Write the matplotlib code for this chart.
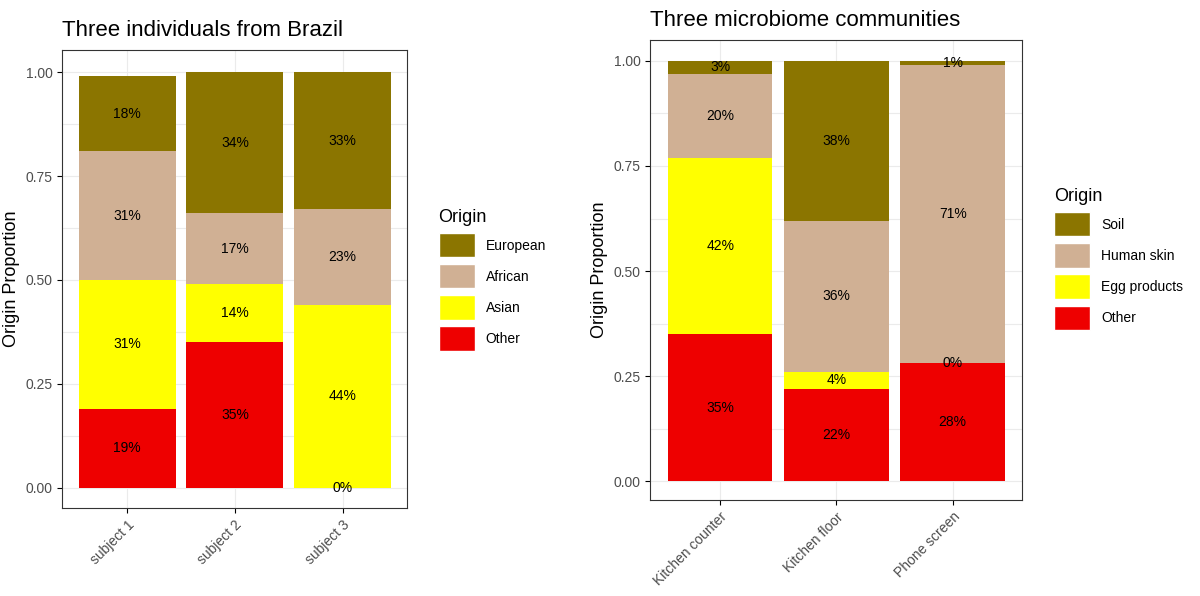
import matplotlib
matplotlib.use("Agg")
import matplotlib.pyplot as plt
from matplotlib.patches import Patch
import numpy as np

plt.rcParams['font.family'] = ['Liberation Sans', 'DejaVu Sans']

# Left panel data (bottom to top: Other, Asian, African, European)
subjects = ["subject 1", "subject 2", "subject 3"]
brazil_other = [0.19, 0.35, 0.00]
brazil_asian = [0.31, 0.14, 0.44]
brazil_african = [0.31, 0.17, 0.23]
brazil_european = [0.18, 0.34, 0.33]

# Right panel data (bottom to top: Other, Egg products, Human skin, Soil)
sites = ["Kitchen counter", "Kitchen floor", "Phone screen"]
micro_other = [0.35, 0.22, 0.28]
micro_egg = [0.42, 0.04, 0.00]
micro_skin = [0.20, 0.36, 0.71]
micro_soil = [0.03, 0.38, 0.01]

COLORS = ["#EE0000", "#FFFF00", "#D0B094", "#8B7500"]

fig = plt.figure(figsize=(12, 5.96), dpi=100)


def panel(ax, cats, series, names, title, legend_y):
    x = np.arange(1, len(cats) + 1)
    bottom = np.zeros(len(cats))
    for vals, col in zip(series, COLORS):
        vals = np.array(vals)
        ax.bar(x, vals, 0.9, bottom=bottom, color=col, zorder=3)
        for xi, b, v in zip(x, bottom, vals):
            ax.text(xi, b + v / 2, "%d%%" % round(v * 100), ha="center",
                    va="center", fontsize=10, zorder=4)
        bottom += vals
    ax.set_xlim(0.4, len(cats) + 0.6)
    ax.set_xticks(x)
    ax.set_xticklabels(cats, rotation=45, ha="right", rotation_mode="anchor",
                       fontsize=10, color="#4d4d4d")
    ax.set_yticks([0, 0.25, 0.5, 0.75, 1.0])
    ax.set_yticklabels(["0.00", "0.25", "0.50", "0.75", "1.00"], fontsize=10,
                       color="#4d4d4d")
    ax.set_yticks([0.125, 0.375, 0.625, 0.875], minor=True)
    ax.tick_params(which="minor", length=0)
    ax.grid(True, which="both", color="#ebebeb", lw=0.8, zorder=0)
    ax.set_ylabel("Origin Proportion", fontsize=13)
    ax.set_title(title, fontsize=16, loc="left", pad=10)
    for s in ax.spines.values():
        s.set_color("#333333")
        s.set_linewidth(0.8)
    handles = [Patch(facecolor=c, edgecolor="white") for c in COLORS[::-1]]
    return handles


ax1 = fig.add_axes([0.052, 0.148, 0.2875, 0.768])
ax1.set_ylim(-0.048, 1.053)
h = panel(ax1, subjects, [brazil_other, brazil_asian, brazil_african, brazil_european],
          None, "Three individuals from Brazil", 0)
fig.legend(h, ["European", "African", "Asian", "Other"], title="Origin",
           loc="upper left", bbox_to_anchor=(0.355, 0.67), frameon=False,
           fontsize=10, title_fontsize=13, handlelength=2.6, handleheight=2.3,
           alignment="left")

ax2 = fig.add_axes([0.542, 0.161, 0.31, 0.772])
ax2.set_ylim(-0.045, 1.05)
h = panel(ax2, sites, [micro_other, micro_egg, micro_skin, micro_soil],
          None, "Three microbiome communities", 0)
fig.legend(h, ["Soil", "Human skin", "Egg products", "Other"], title="Origin",
           loc="upper left", bbox_to_anchor=(0.868, 0.705), frameon=False,
           fontsize=10, title_fontsize=13, handlelength=2.6, handleheight=2.3,
           alignment="left")

fig.savefig("out.png", dpi=100)
